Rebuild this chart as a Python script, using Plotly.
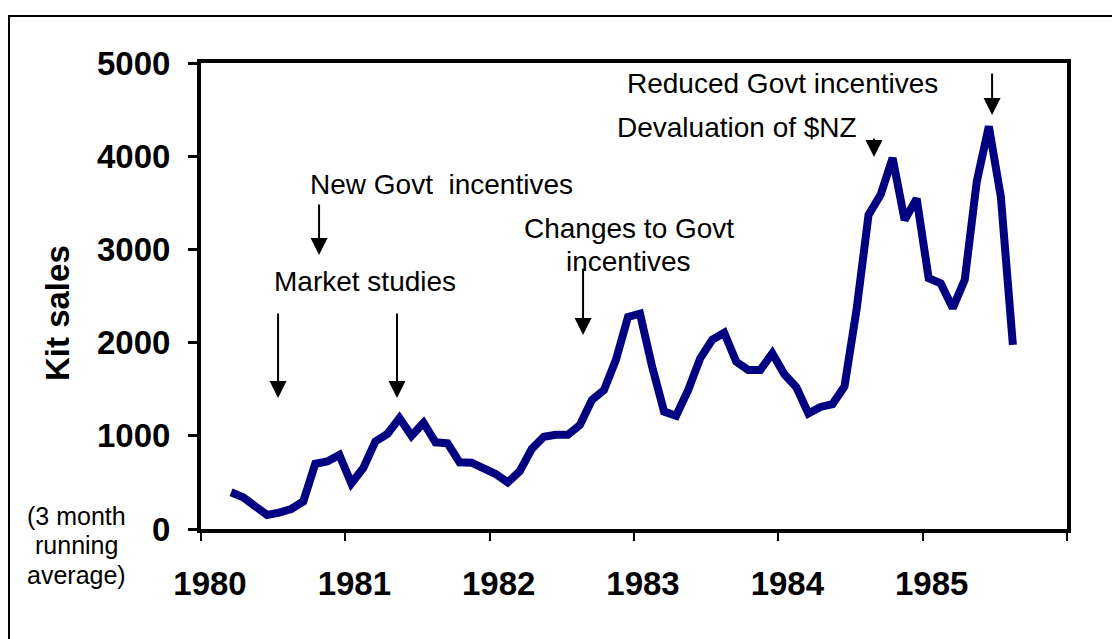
import plotly.graph_objects as go

# Monthly kit sales (3 month running average), March 1980 .. August 1985
start_year = 1980
start_month = 3  # March
sales = [394, 340, 245, 150, 175, 215, 295, 700, 725, 795, 490, 655,
         940, 1020, 1190, 1000, 1140, 930, 920, 715, 712, 660, 590, 500,
         620, 860, 990, 1010, 1010, 1115, 1385, 1490, 1815, 2275, 2310, 1745,
         1260, 1215, 1490, 1830, 2030, 2105, 1795, 1705, 1705, 1885, 1660, 1520,
         1240, 1310, 1340, 1530, 2350, 3370, 3585, 3980, 3315, 3545, 2690, 2635,
         2370, 2675, 3730, 4320, 3565, 1975]

year_ticks = [1980, 1981, 1982, 1983, 1984, 1985, 1986]
year_labels = ["1980", "1981", "1982", "1983", "1984", "1985", ""]
y_ticks = [0, 1000, 2000, 3000, 4000, 5000]

# decimal-year position of each month (mid-month)
x_vals = [start_year + (start_month - 1 + i + 0.5) / 12 for i in range(len(sales))]

# event annotations: (text, x, y)
event_texts = [
    ("New Govt  incentives", 1981.663, 3700),
    ("Market studies", 1981.136, 2660),
    ("Changes to Govt", 1982.965, 3219),
    ("incentives", 1982.960, 2865),
    ("Reduced Govt incentives", 1984.026, 4785),
    ("Devaluation of $NZ", 1983.714, 4313),
]
# event arrows: (x, y_tail, y_tip)
event_arrows = [
    (1980.818, 3498, 2940),
    (1980.534, 2328, 1406),
    (1981.358, 2328, 1406),
    (1982.647, 2811, 2082),
    (1984.663, 4206, 3992),
    (1985.481, 4904, 4442),
]
note_lines = ["(3 month", "running", "average)"]

FONT = "Liberation Sans, Arial, sans-serif"

fig = go.Figure()
fig.add_trace(go.Scatter(
    x=x_vals, y=sales, mode="lines",
    line=dict(color="#000080", width=8),
    hoverinfo="skip", showlegend=False,
))

annotations = []
for text, x, y in event_texts:
    annotations.append(dict(
        text=text, x=x, y=y, xref="x", yref="y", showarrow=False,
        font=dict(family=FONT, size=28, color="black"),
        xanchor="center", yanchor="middle",
    ))
for x, y_tail, y_tip in event_arrows:
    annotations.append(dict(
        text="", x=x, y=y_tip, ax=x, ay=y_tail,
        xref="x", yref="y", axref="x", ayref="y",
        showarrow=True, arrowhead=2, arrowsize=1.7, arrowwidth=2,
        arrowcolor="black", standoff=0, startstandoff=0,
    ))
annotations.append(dict(
    text="Kit sales", x=-0.1663, y=0.4635, xref="paper", yref="paper",
    showarrow=False, textangle=-90,
    font=dict(family=FONT, size=33, color="black", weight="bold"),
    xanchor="center", yanchor="middle",
))
for line, yp in zip(note_lines, [0.0279, -0.0343, -0.0987]):
    annotations.append(dict(
        text=line, x=-0.1432, y=yp,
        xref="paper", yref="paper", showarrow=False,
        font=dict(family=FONT, size=25, color="black"),
        xanchor="center", yanchor="middle",
    ))

# page body has an 8px margin, so the figure is laid out 8px smaller
W, H = 1112, 631
L, R, T, B = 193, 53, 55, 110
pw, ph = W - L - R, H - T - B

fig.update_layout(
    width=W, height=H,
    margin=dict(l=L, r=R, t=T, b=B, pad=0),
    paper_bgcolor="white", plot_bgcolor="white",
    annotations=annotations,
    shapes=[dict(
        type="rect", xref="paper", yref="paper",
        x0=(1 - L) / pw, x1=(W + 10 - L) / pw,
        y0=-(B + 20) / ph, y1=(H - B - 8) / ph,
        line=dict(color="black", width=2), fillcolor="rgba(0,0,0,0)",
        layer="below",
    )],
    xaxis=dict(
        range=[1980, 1986], tickvals=year_ticks, ticktext=year_labels,
        showline=True, linecolor="black", linewidth=4, mirror=True,
        ticks="outside", ticklen=8, tickwidth=2, tickcolor="black",
        showgrid=False, zeroline=False,
        tickfont=dict(family=FONT, size=33, color="black", weight="bold"),
        ticklabelstandoff=14, ticklabelshift=9,
    ),
    yaxis=dict(
        range=[0, 5000], tickvals=y_ticks,
        showline=True, linecolor="black", linewidth=4, mirror=True,
        ticks="outside", ticklen=9, tickwidth=3, tickcolor="black",
        showgrid=False, zeroline=False,
        tickfont=dict(family=FONT, size=33, color="black", weight="bold"),
        ticklabelstandoff=11,
    ),
)

fig.write_html("out.html")
